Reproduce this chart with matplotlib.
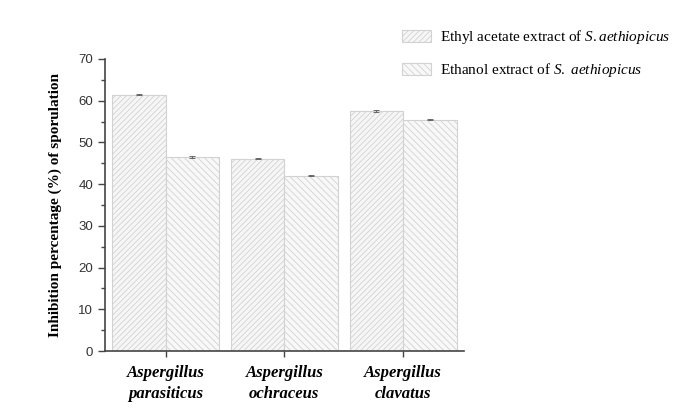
import matplotlib
matplotlib.use("Agg")
import matplotlib.pyplot as plt
import numpy as np

plt.rcParams['mathtext.fontset'] = 'custom'
plt.rcParams['mathtext.rm'] = 'Liberation Serif'
plt.rcParams['mathtext.it'] = 'Liberation Serif:italic'
plt.rcParams['hatch.color'] = '#d4d4d4'
plt.rcParams['hatch.linewidth'] = 0.6

fungi = ["Aspergillus\nparasiticus", "Aspergillus\nochraceus", "Aspergillus\nclavatus"]
ethyl_acetate = [61.4, 46.1, 57.5]
ethanol = [46.4, 42.0, 55.4]
ethyl_err = [0.15, 0.15, 0.15]
ethanol_err = [0.25, 0.1, 0.1]
labels = [r"Ethyl acetate extract of $\it{S.aethiopicus}$",
          r"Ethanol extract of $\it{S.}$ $\it{aethiopicus}$"]

fig = plt.figure(figsize=(6.73, 4.12), dpi=100)
ax = fig.add_axes([0.156, 0.148, 0.533, 0.709])

x = np.arange(1, len(fungi) + 1)
w = 0.45
ax.bar(x - w/2, ethyl_acetate, w, yerr=ethyl_err, color='#f6f6f6', edgecolor='#d2d2d2',
       hatch='//////', linewidth=0.8, label=labels[0],
       error_kw=dict(ecolor='#555555', capsize=2, elinewidth=0.6, capthick=0.6))
ax.bar(x + w/2, ethanol, w, yerr=ethanol_err, color='#f8f8f8', edgecolor='#d2d2d2',
       hatch='\\\\\\\\\\', linewidth=0.8, label=labels[1],
       error_kw=dict(ecolor='#555555', capsize=2, elinewidth=0.6, capthick=0.6))

ax.set_xlim(0.49, 3.51)
ax.set_ylim(0, 70)
ax.set_yticks(np.arange(0, 71, 10))
ax.set_yticks(np.arange(5, 70, 10), minor=True)
ax.set_xticks(x)
ax.set_xticklabels(fungi, fontfamily='Liberation Serif', fontstyle='italic',
                   fontweight='bold', fontsize=12, ha='center', linespacing=1.45)
for lab in ax.get_yticklabels():
    lab.set_fontfamily('Liberation Sans')
    lab.set_fontsize(9.5)
    lab.set_color('#333333')

for s in ['top', 'right']:
    ax.spines[s].set_visible(False)
for s in ['left', 'bottom']:
    ax.spines[s].set_color('#444444')
    ax.spines[s].set_linewidth(1.2)
ax.tick_params(axis='y', which='major', length=5, width=1, color='#444444')
ax.tick_params(axis='y', which='minor', length=3, width=1, color='#444444')
ax.tick_params(axis='x', length=4, width=1, color='#444444', pad=6)

ax.set_ylabel("Inhibition percentage (%) of sporulation", fontfamily='Liberation Serif',
              fontweight='bold', fontsize=11, labelpad=12)

fig.legend(loc='upper left', bbox_to_anchor=(0.577, 0.965), frameon=False,
           prop={'family': 'Liberation Serif', 'size': 11}, labelspacing=1.0,
           handlelength=1.9, handleheight=0.8, handletextpad=0.55)

fig.savefig("out.png", dpi=100)
